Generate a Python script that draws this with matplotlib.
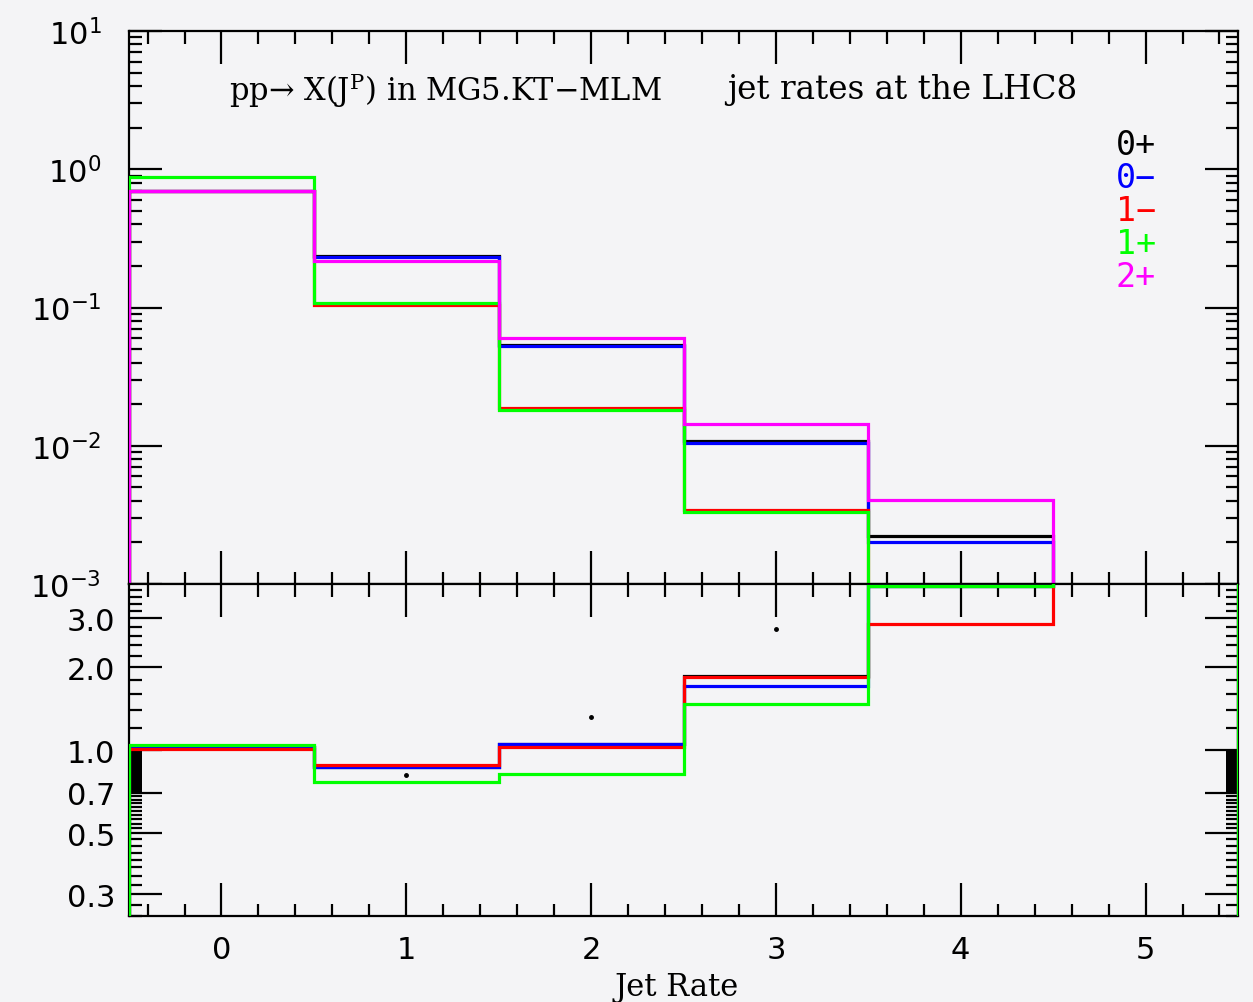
import numpy as np
import matplotlib
matplotlib.use('Agg')
import matplotlib.pyplot as plt
from matplotlib.ticker import FixedLocator, FixedFormatter, NullFormatter

plt.rcParams['mathtext.fontset'] = 'custom'
plt.rcParams['mathtext.rm'] = 'DejaVu Sans'
plt.rcParams['mathtext.it'] = 'DejaVu Serif'

# bin edges of the jet multiplicity histogram
edges = [-0.5, 0.5, 1.5, 2.5, 3.5, 4.5, 5.5]

names = ['0+', '0\u2212', '1\u2212', '1+', '2+']
colors = ['black', '#0000ff', '#ff0000', '#00ff00', '#ff00ff']

# jet rates (upper panel), 0 = empty bin
rate_0p = [0.70, 0.234, 0.054, 0.0108, 0.00221, 0]
rate_0m = [0.70, 0.233, 0.053, 0.0104, 0.00200, 0]
rate_1m = [0.70, 0.105, 0.0188, 0.00343, 0, 0]
rate_1p = [0.874, 0.108, 0.0182, 0.00334, 0, 0]
rate_2p = [0.70, 0.218, 0.0598, 0.01436, 0.00405, 0]

# ratios (lower panel), 10 = off scale
ratio_0p = [1.03, 0.865, 1.05, 1.85, 3.95, 10]
ratio_0m = [1.03, 0.865, 1.05, 1.71, 3.95, 10]
ratio_1m = [1.01, 0.882, 1.028, 1.846, 2.87, 10]
ratio_1p = [1.04, 0.767, 0.816, 1.466, 3.95, 10]

# small black points in the lower panel
dot_x = [0, 1, 2, 3]
dot_y = [1.025, 0.81, 1.32, 2.75]

rates = [rate_0p, rate_0m, rate_1m, rate_1p, rate_2p]
ratios = [ratio_0p, ratio_0m, ratio_1m, ratio_1p]

bg = '#f4f4f6'
fig = plt.figure(figsize=(12.53, 10.03), dpi=100, facecolor=bg)
ax1 = fig.add_axes([0.1030, 0.4167, 0.8850, 0.5514], facecolor=bg)
ax2 = fig.add_axes([0.1030, 0.0857, 0.8850, 0.3310], facecolor=bg)

for vals, c in zip(rates, colors):
    v = np.array(vals, dtype=float)
    v = np.where(v > 0, v, 1e-9)
    ax1.stairs(v, edges, baseline=1e-9, color=c, lw=2.3, zorder=3)

for vals, c in zip(ratios, colors):
    ax2.stairs(vals, edges, baseline=0.01, color=c, lw=2.3, zorder=3)
ax2.plot(dot_x, dot_y, 'o', color='black', ms=2.5)

for ax in [ax1, ax2]:
    ax.set_xlim(-0.5, 5.5)
    ax.set_yscale('log')
    for s in ax.spines.values():
        s.set_linewidth(1.6)
    ax.xaxis.set_major_locator(FixedLocator([0, 1, 2, 3, 4, 5]))
    ax.xaxis.set_minor_locator(FixedLocator(np.arange(-0.4, 5.5, 0.2)))
    ax.tick_params(which='both', direction='in', top=True, right=True, width=1.6,
                   labelsize=22)
    ax.tick_params(which='major', length=24)
    ax.tick_params(which='minor', length=9)
ax2.spines['right'].set_linewidth(0.8)

# upper panel
ax1.set_ylim(1e-3, 10)
ax1.yaxis.set_major_locator(FixedLocator([1e-3, 1e-2, 1e-1, 1, 10]))
ax1.yaxis.set_major_formatter(FixedFormatter(['10$^{\u22123}$', '10$^{\u22122}$',
                                              '10$^{\u22121}$', '10$^{0}$', '10$^{1}$']))
minors = []
for d in [1e-3, 1e-2, 1e-1, 1]:
    for k in range(2, 10):
        minors.append(k * d)
ax1.yaxis.set_minor_locator(FixedLocator(minors))
ax1.yaxis.set_minor_formatter(NullFormatter())
ax1.tick_params(axis='y', pad=20)
ax1.tick_params(axis='x', labelbottom=False)

ax1.text(0.090, 0.895, 'pp\u2192 X(J$^{P}$) in MG5.KT\u2212MLM', transform=ax1.transAxes,
         fontsize=22, family='DejaVu Serif', va='center', ha='left')
ax1.text(0.539, 0.895, 'jet rates at the LHC8', transform=ax1.transAxes,
         fontsize=23.5, family='DejaVu Serif', va='center', ha='left')

for i, (n, c) in enumerate(zip(names, colors)):
    ax1.text(0.890, 0.795 - i * 0.0597, n, color=c, transform=ax1.transAxes,
             fontsize=24, family='DejaVu Sans Mono', va='center', ha='left')

# lower panel
ax2.set_ylim(0.25, 4.0)
ax2.yaxis.set_major_locator(FixedLocator([0.3, 0.5, 0.7, 1.0, 2.0, 3.0]))
ax2.yaxis.set_major_formatter(FixedFormatter(['0.3', '0.5', '0.7', '1.0', '2.0', '3.0']))
minor2 = list(np.arange(0.25, 0.5, 0.025)) + list(np.arange(0.5, 0.7, 0.02)) + \
    list(np.arange(0.7, 1.0, 0.01)) + list(np.arange(1.2, 4.0, 0.2))
ax2.yaxis.set_minor_locator(FixedLocator(minor2))
ax2.yaxis.set_minor_formatter(NullFormatter())
ax2.tick_params(axis='y', pad=10)
ax2.tick_params(axis='x', pad=14)

fig.text(0.540, 0.015, 'Jet Rate', fontsize=22, family='DejaVu Serif',
         ha='center', va='center')

plt.savefig('out.png', dpi=100, facecolor=bg)
